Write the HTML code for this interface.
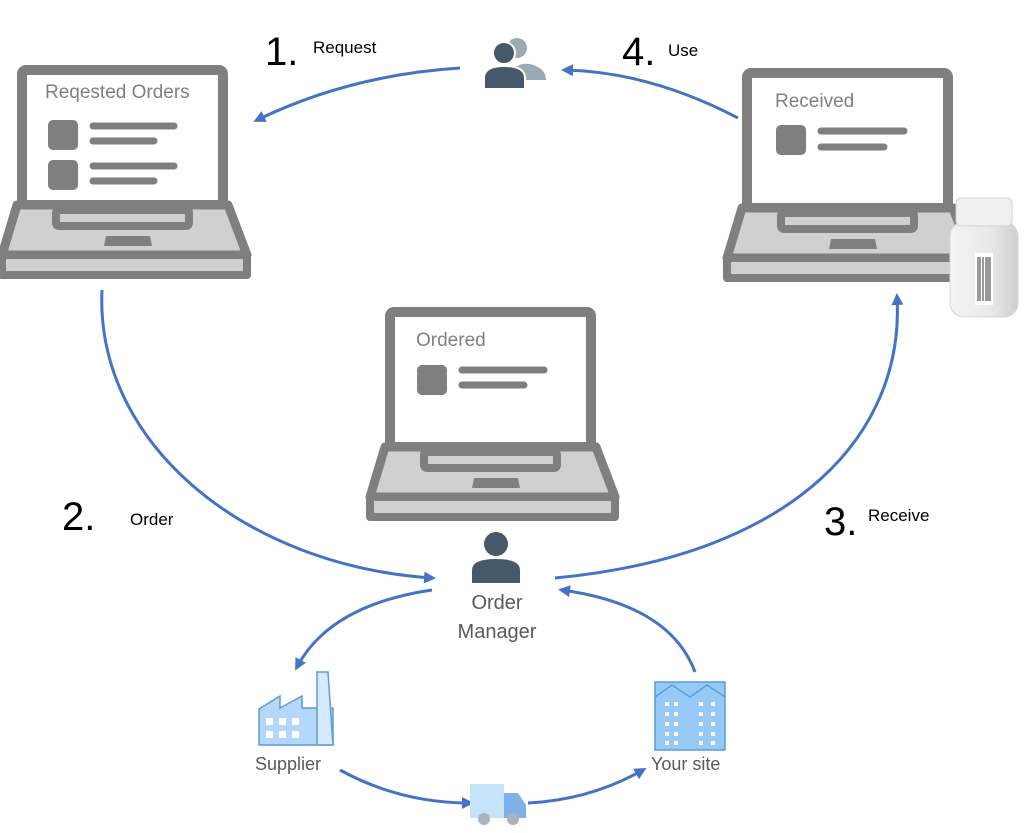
<!DOCTYPE html>
<html><head><meta charset="utf-8"><style>
body{margin:0;background:#fff;}
svg{display:block;font-family:"Liberation Sans",sans-serif;}
</style></head><body>
<svg width="1024" height="833" viewBox="0 0 1024 833" xmlns="http://www.w3.org/2000/svg">
<defs>
<marker id="ah" markerWidth="12" markerHeight="12" refX="8" refY="6" orient="auto" markerUnits="userSpaceOnUse" viewBox="0 0 12 12">
<path d="M0,0 L12,6 L0,12 Z" fill="#4472c4"/></marker>
<linearGradient id="bt" x1="0" x2="1"><stop offset="0" stop-color="#f4f4f4"/><stop offset="0.6" stop-color="#e8e8e8"/><stop offset="1" stop-color="#cfcfcf"/></linearGradient>
<g id="lap">
<rect x="5" y="5" width="201" height="135" rx="4" fill="#fff" stroke="#7f7f7f" stroke-width="10"/>
<polygon points="0,140 211,140 230,190 -15,190" fill="#d0d0d0" stroke="#7f7f7f" stroke-width="9" stroke-linejoin="round"/>
<rect x="-15" y="190" width="245" height="20" fill="#d0d0d0" stroke="#7f7f7f" stroke-width="8" stroke-linejoin="round"/>
<rect x="39" y="145" width="133" height="16" rx="3" fill="#d0d0d0" stroke="#7f7f7f" stroke-width="8"/>
<polygon points="89,171 133,171 135,181 87,181" fill="#7f7f7f"/>
</g>
</defs>
<g fill="none" stroke="#4472c4" stroke-width="3" marker-end="url(#ah)">
<path d="M460,68 Q350,75 257,120"/>
<path d="M738,118 Q650,72 565,70"/>
<path d="M102,290 C95,440 240,565 432,578"/>
<path d="M555,578 C800,555 905,430 897,297"/>
<path d="M432,590 Q330,605 297,667"/>
<path d="M695,672 Q670,605 562,590"/>
<path d="M340,770 Q400,803 470,803"/>
<path d="M528,803 Q590,800 643,770"/>
</g>
<use href="#lap" x="17" y="65"/>
<use href="#lap" x="742" y="68"/>
<use href="#lap" x="385" y="307"/>
<g fill="#808080" font-size="19">
<text x="45" y="98">Reqested Orders</text>
<text x="775" y="107">Received</text>
<text x="416" y="346">Ordered</text>
</g>
<g fill="#7f7f7f"><rect x="48" y="120" width="30" height="30" rx="5"/><rect x="48" y="160" width="30" height="30" rx="5"/>
<rect x="776" y="125" width="30" height="30" rx="5"/><rect x="417" y="365" width="30" height="30" rx="5"/></g>
<g stroke="#7f7f7f" stroke-width="7" stroke-linecap="round">
<path d="M93,126H174M93,141H154M93,166H174M93,181H154M821,131H904M821,147H884M462,370H544M462,385H524"/>
</g>
<!-- bottle -->
<rect x="950" y="222" width="68" height="95" rx="14" fill="url(#bt)" stroke="#d8d8d8"/>
<rect x="956" y="198" width="56" height="28" rx="5" fill="#f0f0f0" stroke="#d0d0d0"/>
<rect x="975" y="253" width="18" height="52" fill="#fff"/>
<g stroke="#333" stroke-width="1"><path d="M978,257V301M980,257V301M983,257V301M986,257V301M988,257V301M990,257V301"/></g>
<!-- users -->
<circle cx="517" cy="48" r="10" fill="#9aabb5"/><path d="M510,80 Q512,62 530,64 Q546,68 546,80 Z" fill="#9aabb5"/>
<circle cx="504" cy="53" r="11" fill="#46596a" stroke="#fff" stroke-width="2"/><path d="M484,89 V78 Q484,66 504,66 Q525,66 525,78 V89 Z" fill="#46596a" stroke="#fff" stroke-width="2"/>
<circle cx="496" cy="544" r="12" fill="#46596a"/><path d="M472,583 V570 Q472,559 496,559 Q520,559 520,570 V583 Z" fill="#46596a"/>
<g fill="#595959" font-size="20" text-anchor="middle"><text x="497" y="609">Order</text><text x="497" y="638">Manager</text></g>
<g fill="#000"><text x="265" y="65" font-size="40">1.</text><text x="622" y="65" font-size="40">4.</text><text x="62" y="530" font-size="40">2.</text><text x="824" y="535" font-size="40">3.</text>
<g font-size="17"><text x="313" y="53">Request</text><text x="668" y="56">Use</text><text x="130" y="525">Order</text><text x="868" y="521">Receive</text></g></g>
<!-- factory -->
<polygon points="259,745 259,709 280,696 280,708 302,696 302,708 333,708 333,745" fill="#b4d7fb" stroke="#5b9bd5" stroke-width="1.5"/>
<polygon points="317,745 317,672 328,672 333,745" fill="#d6eafd" stroke="#5b9bd5" stroke-width="1.5"/>
<g fill="#fff"><rect x="266" y="718" width="7" height="7"/><rect x="279" y="718" width="7" height="7"/><rect x="292" y="718" width="7" height="7"/><rect x="266" y="731" width="7" height="7"/><rect x="279" y="731" width="7" height="7"/><rect x="292" y="731" width="7" height="7"/></g>
<!-- building -->
<rect x="655" y="682" width="70" height="68" fill="#96c8f8" stroke="#5b9bd5" stroke-width="1.5"/>
<polyline points="655,697 672,685 690,697 707,685 725,697" fill="none" stroke="#5b9bd5" stroke-width="1.5"/>
<g fill="#fff"><rect x="665" y="702" width="4" height="4"/><rect x="674" y="702" width="4" height="4"/><rect x="665" y="712" width="4" height="4"/><rect x="674" y="712" width="4" height="4"/><rect x="665" y="722" width="4" height="4"/><rect x="674" y="722" width="4" height="4"/><rect x="665" y="732" width="4" height="4"/><rect x="674" y="732" width="4" height="4"/><rect x="665" y="741" width="4" height="4"/><rect x="674" y="741" width="4" height="4"/>
<rect x="699" y="702" width="4" height="4"/><rect x="711" y="702" width="4" height="4"/><rect x="699" y="712" width="4" height="4"/><rect x="711" y="712" width="4" height="4"/><rect x="699" y="722" width="4" height="4"/><rect x="711" y="722" width="4" height="4"/><rect x="699" y="732" width="4" height="4"/><rect x="711" y="732" width="4" height="4"/><rect x="699" y="741" width="4" height="4"/><rect x="711" y="741" width="4" height="4"/></g>
<g fill="#595959" font-size="18"><text x="255" y="770">Supplier</text><text x="651" y="770">Your site</text></g>
<!-- truck -->
<rect x="470" y="784" width="34" height="34" fill="#c5e3fb"/>
<path d="M504,793 H518 L526,805 V818 H504 Z" fill="#80b0ea"/>
<circle cx="484" cy="819" r="6" fill="#a8b4c0"/><circle cx="513" cy="819" r="6" fill="#a8b4c0"/>
</svg>
</body></html>
